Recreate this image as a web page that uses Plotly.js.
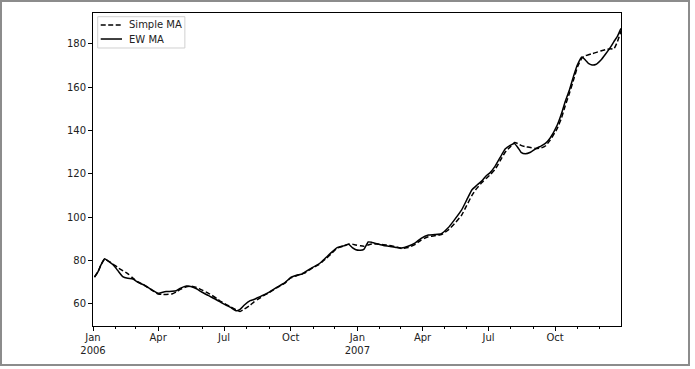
<!DOCTYPE html>
<html>
<head>
<meta charset="utf-8">
<script src="https://cdn.plot.ly/plotly-3.0.1.min.js"></script>
<style>
  html, body { margin: 0; padding: 0; background: #fff; }
  #wrap { position: relative; width: 695px; height: 369px; }
  #chart { position: absolute; left: 0; top: 0; width: 695px; height: 369px; }
  #frame { position: absolute; left: 0; top: 0; width: 690px; height: 366px; border: 2px solid #8c8c8c; box-sizing: border-box; pointer-events: none; }
</style>
</head>
<body>
<div id="wrap"><div id="chart"></div><div id="frame"></div></div>
<script>
const dates = [
 '2006-01-03','2006-01-08','2006-01-12','2006-01-17','2006-01-23','2006-01-29','2006-02-04','2006-02-11',
 '2006-02-18','2006-02-25','2006-03-05','2006-03-13','2006-03-22','2006-04-01','2006-04-06','2006-04-12',
 '2006-04-20','2006-04-26','2006-05-02','2006-05-10','2006-05-16','2006-05-24','2006-05-31','2006-06-09',
 '2006-06-21','2006-06-27','2006-07-04','2006-07-10','2006-07-18','2006-07-23','2006-07-29','2006-08-06',
 '2006-08-11','2006-08-17','2006-08-24','2006-08-31','2006-09-11','2006-09-23','2006-10-01','2006-10-09',
 '2006-10-17','2006-10-21','2006-11-01','2006-11-08','2006-11-13','2006-11-19','2006-11-27','2006-12-04',
 '2006-12-13','2006-12-20','2006-12-25','2006-12-30','2007-01-05','2007-01-10','2007-01-16','2007-01-21',
 '2007-01-28','2007-02-06','2007-02-14','2007-02-24','2007-03-03','2007-03-12','2007-03-22','2007-03-30',
 '2007-04-09','2007-04-18','2007-04-27','2007-05-06','2007-05-15','2007-05-25','2007-06-01','2007-06-08',
 '2007-06-14','2007-06-22','2007-06-28','2007-07-03','2007-07-10','2007-07-17','2007-07-24','2007-07-31',
 '2007-08-06','2007-08-11','2007-08-15','2007-08-21','2007-08-28','2007-09-04','2007-09-12','2007-09-18',
 '2007-09-24','2007-10-04','2007-10-10','2007-10-15','2007-10-21','2007-10-27','2007-11-01','2007-11-07',
 '2007-11-12','2007-11-16','2007-11-21','2007-11-26','2007-12-03','2007-12-10','2007-12-17','2007-12-21',
 '2007-12-26','2007-12-31'
];
const ewMA = [
 72.4,74.9,78.0,80.8,79.5,78.0,75.5,72.6,
 71.8,71.5,69.8,68.6,66.8,64.9,65.3,65.7,
 65.8,66.1,67.3,68.3,68.0,67.0,65.5,63.9,
 61.8,60.6,59.4,58.4,56.8,57.5,59.5,61.5,
 62.0,63.0,64.0,65.2,67.5,69.8,72.2,73.2,
 73.8,74.8,77.0,78.2,79.6,81.5,84.0,86.0,
 86.8,87.5,86.0,85.0,84.8,85.2,88.6,88.4,
 87.8,87.0,86.6,86.0,85.8,86.6,88.2,90.3,
 91.8,92.0,92.4,95.0,98.8,103.4,108.0,112.6,
 114.5,116.8,119.2,120.5,123.5,127.5,131.5,133.2,
 134.0,132.0,130.0,129.3,130.0,131.6,133.0,134.2,
 136.5,142.6,148.0,153.4,159.0,165.7,170.5,174.0,
 172.5,171.0,170.3,170.5,172.5,175.5,178.8,181.0,
 183.5,187.2
];
const simpleMA = [
 72.4,74.9,78.0,80.6,79.6,78.3,76.8,75.4,
 74.0,71.9,70.0,68.6,66.6,64.6,64.4,64.4,
 64.6,65.5,66.8,67.9,68.2,67.6,66.5,65.0,
 62.5,61.0,59.7,58.6,57.2,56.5,57.6,59.4,
 60.8,62.2,63.7,65.0,67.3,69.6,72.0,73.0,
 74.0,74.4,76.8,78.0,79.3,81.0,83.5,85.7,
 86.7,87.6,87.6,87.2,86.8,86.6,87.2,87.6,
 87.6,87.3,87.0,86.3,85.6,86.0,87.5,89.5,
 91.0,91.5,92.0,94.0,97.0,101.0,105.5,110.0,
 113.0,116.0,118.0,119.5,122.0,126.0,130.0,132.5,
 134.5,134.0,133.2,132.6,132.2,131.8,132.0,133.0,
 135.5,141.0,146.0,151.5,157.5,164.0,169.5,173.5,
 174.6,175.0,175.5,176.0,176.8,177.4,177.8,177.6,
 181.0,186.0
];
const seriesNames = ['Simple MA', 'EW MA'];
const xTickVals = ['2006-01-01','2006-04-01','2006-07-01','2006-10-01','2007-01-01','2007-04-01','2007-07-01','2007-10-01'];
const xTickText = ['Jan<br>2006','Apr','Jul','Oct','Jan<br>2007','Apr','Jul','Oct'];
const yTickVals = [60, 80, 100, 120, 140, 160, 180];

const dashStyle = '5px,2.5px';
const traces = [
  { x: dates, y: simpleMA, type: 'scatter', mode: 'lines', name: seriesNames[0],
    line: { color: '#000', width: 1.5, dash: dashStyle, shape: 'spline', smoothing: 0.4 } },
  { x: dates, y: ewMA, type: 'scatter', mode: 'lines', name: seriesNames[1],
    line: { color: '#000', width: 1.5, shape: 'spline', smoothing: 0.4 } }
];

// compact, matplotlib-like legend drawn with shapes + annotations (paper coords)
const legendRows = [0.9617, 0.9169];
const shapes = [
  { type: 'rect', xref: 'paper', yref: 'paper', x0: 0.0089, x1: 0.1740, y0: 0.8882, y1: 0.9882,
    line: { color: '#d0d0d0', width: 1 }, fillcolor: 'rgba(255,255,255,0.8)', layer: 'above' },
  { type: 'line', xref: 'paper', yref: 'paper', x0: 0.0146, x1: 0.0549, y0: legendRows[0], y1: legendRows[0],
    line: { color: '#000', width: 1.5, dash: dashStyle }, layer: 'above' },
  { type: 'line', xref: 'paper', yref: 'paper', x0: 0.0146, x1: 0.0549, y0: legendRows[1], y1: legendRows[1],
    line: { color: '#000', width: 1.5 }, layer: 'above' }
];
const annotations = seriesNames.map((n, i) => ({
  xref: 'paper', yref: 'paper', x: 0.0640, y: legendRows[i], xanchor: 'left', yanchor: 'middle',
  text: n, showarrow: false, font: { size: 10, color: '#222' }
}));

const layout = {
  width: 695, height: 369,
  margin: { l: 93, r: 74, t: 13, b: 43, pad: 0 },
  paper_bgcolor: '#fff', plot_bgcolor: '#fff',
  font: { family: 'DejaVu Sans, sans-serif', size: 10, color: '#222' },
  showlegend: false,
  shapes: shapes,
  annotations: annotations,
  xaxis: {
    type: 'date', range: ['2006-01-01', '2007-12-31'],
    tickmode: 'array', tickvals: xTickVals, ticktext: xTickText,
    ticks: 'outside', ticklen: 4, tickcolor: '#000', tickwidth: 1,
    ticklabelstandoff: -2,
    minor: { dtick: 'M1', tick0: '2006-01-01', ticks: 'outside', ticklen: 2, tickcolor: '#000', showgrid: false },
    showgrid: false, zeroline: false,
    showline: true, mirror: true, linecolor: '#000', linewidth: 1,
    tickfont: { size: 10, color: '#222' }
  },
  yaxis: {
    range: [49.8, 194.3],
    tickmode: 'array', tickvals: yTickVals,
    ticks: 'outside', ticklen: 4, tickcolor: '#000', tickwidth: 1,
    showgrid: false, zeroline: false,
    showline: true, mirror: true, linecolor: '#000', linewidth: 1,
    tickfont: { size: 10, color: '#222' }
  }
};

Plotly.newPlot('chart', traces, layout, { displayModeBar: false, staticPlot: true });
</script>
</body>
</html>
